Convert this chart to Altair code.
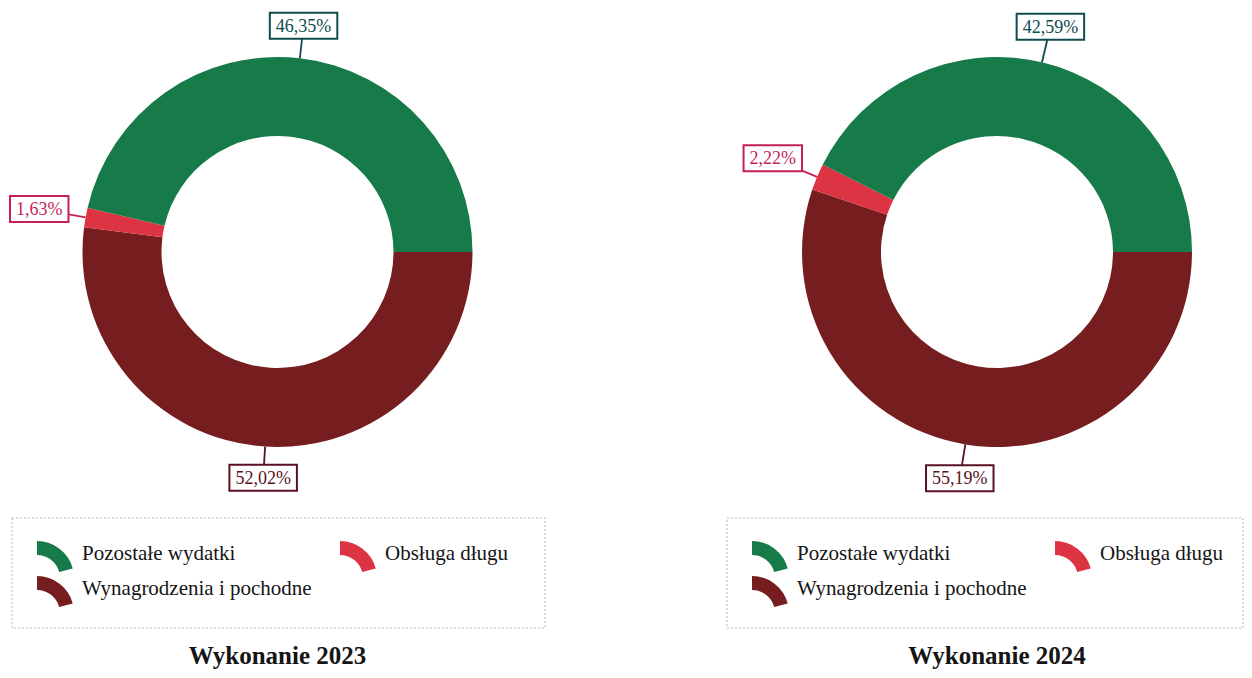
import math
import altair as alt
import pandas as pd

# ---------------- data ----------------
categories = ["Pozostałe wydatki", "Obsługa długu", "Wynagrodzenia i pochodne"]
years = ["2023", "2024"]
values_2023 = [46.35, 1.63, 52.02]
values_2024 = [42.59, 2.22, 55.19]
titles = ["Wykonanie 2023", "Wykonanie 2024"]

# ---------------- style / layout ----------------
slice_colors = ["#177a49", "#dc3443", "#761d1f"]
label_colors = ["#0f4c4e", "#c41f5b", "#5a1121"]
stack_order = [2, 1, 0]          # clockwise from 3 o'clock
W, H, M = 1236, 662, 8
centers_x = [277.5, 997.0]       # page px
center_y = 252.0
R_OUT, R_IN = 195, 116
legend_left = [12, 727]
legend_right = [545, 1243]
legend_top, legend_bottom = 518, 628
LABEL_FS = 18
LEGEND_FS = 21
TITLE_FS = 25
GAP = 16

char_w = {",": 0.25, "%": 0.833}


def fmt(v):
    return f"{v:.2f}".replace(".", ",") + "%"


arc_rows, lab_rows, leg_rows, icon_rows, box_rows, title_rows = [], [], [], [], [], []
for p, (yr, vals) in enumerate(zip(years, [values_2023, values_2024])):
    cx = centers_x[p] - M
    cy = center_y - M
    ang = math.pi / 2
    for i in stack_order:
        t0 = ang
        t1 = ang + vals[i] / 100 * 2 * math.pi
        ang = t1
        arc_rows.append(dict(x=cx, y=cy, t0=t0, t1=t1, cat=categories[i]))
        mid = (t0 + t1) / 2
        s, c = math.sin(mid), -math.cos(mid)
        txt = fmt(vals[i])
        bw = LABEL_FS * sum(char_w.get(ch, 0.5) for ch in txt) + 12
        bh = 26
        d = R_OUT + GAP + abs(s) * bw / 2 + abs(c) * bh / 2
        bx, by = cx + d * s, cy + d * c
        lab_rows.append(dict(
            x=cx + R_OUT * s, y=cy + R_OUT * c, x2=bx, y2=by,
            bx=bx, by=by, bx1=bx - bw / 2, bx2=bx + bw / 2,
            by1=by - bh / 2, by2=by + bh / 2, label=txt, lc=label_colors[i]))
    L = legend_left[p] - M
    box_rows.append(dict(x=L, x2=legend_right[p] - M,
                         y=legend_top - M, y2=legend_bottom - M))
    item_pos = [(L + 25, 560 - M), (L + 328, 560 - M), (L + 25, 595 - M)]
    for i, (ix, base) in enumerate(item_pos):
        icon_rows.append(dict(x=ix, y=base + 18, t0=0.0, t1=math.radians(75),
                              cat=categories[i]))
        leg_rows.append(dict(x=ix + 45, y=base, text=categories[i]))
    title_rows.append(dict(x=cx, y=664 - M, text=titles[p]))

arcs = pd.DataFrame(arc_rows)
labs = pd.DataFrame(lab_rows)
icons = pd.DataFrame(icon_rows)
legtxt = pd.DataFrame(leg_rows)
boxes = pd.DataFrame(box_rows)
ttl = pd.DataFrame(title_rows)

xs = alt.Scale(domain=[0, W], range=[0, W])
ys = alt.Scale(domain=[0, H], range=[0, H])
X = lambda f: alt.X(f, type="quantitative", scale=xs, axis=None)
Y = lambda f: alt.Y(f, type="quantitative", scale=ys, axis=None)
col = alt.Color("cat:N", scale=alt.Scale(domain=categories, range=slice_colors), legend=None)

donut = alt.Chart(arcs).mark_arc(innerRadius=R_IN, outerRadius=R_OUT).encode(
    x=X("x"), y=Y("y"),
    theta=alt.Theta("t0:Q", scale=None), theta2="t1:Q", color=col)

leaders = alt.Chart(labs).mark_rule(strokeWidth=1.8).encode(
    x=X("x"), y=Y("y"), x2="x2:Q", y2="y2:Q", color=alt.Color("lc:N", scale=None))

lbox = alt.Chart(labs).mark_rect(fill="white", strokeWidth=2).encode(
    x=X("bx1"), x2="bx2:Q", y=Y("by1"), y2="by2:Q", stroke=alt.Stroke("lc:N", scale=None))

ltext = alt.Chart(labs).mark_text(font="Liberation Serif", fontSize=LABEL_FS,
                                  align="center", baseline="middle", dy=1).encode(
    x=X("bx"), y=Y("by"), text="label:N", color=alt.Color("lc:N", scale=None))

legbox = alt.Chart(boxes).mark_rect(fillOpacity=0, stroke="#b8b8b8", strokeWidth=1,
                                    strokeDash=[2, 2]).encode(
    x=X("x"), x2="x2:Q", y=Y("y"), y2="y2:Q")

legicon = alt.Chart(icons).mark_arc(innerRadius=23, outerRadius=37).encode(
    x=X("x"), y=Y("y"), theta=alt.Theta("t0:Q", scale=None), theta2="t1:Q", color=col)

legtext = alt.Chart(legtxt).mark_text(font="Liberation Serif", fontSize=LEGEND_FS,
                                      align="left", baseline="alphabetic",
                                      color="#151515").encode(
    x=X("x"), y=Y("y"), text="text:N")

titletext = alt.Chart(ttl).mark_text(font="Liberation Serif", fontSize=TITLE_FS,
                                     fontWeight="bold", align="center",
                                     baseline="alphabetic", color="#151515").encode(
    x=X("x"), y=Y("y"), text="text:N")

chart = alt.layer(donut, leaders, lbox, ltext, legbox, legicon, legtext, titletext).properties(
    width=W, height=H, autosize="none", padding=0
).configure_view(stroke=None)

chart.save("out.html", embed_options={"renderer": "svg", "actions": False})
